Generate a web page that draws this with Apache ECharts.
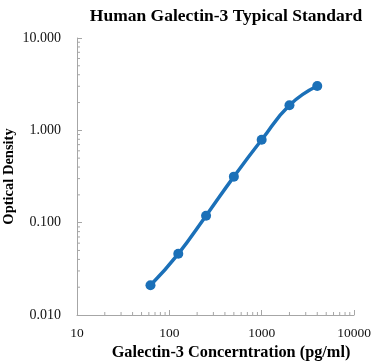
<!DOCTYPE html>
<html><head><meta charset="utf-8">
<script src="https://cdn.jsdelivr.net/npm/echarts@6/dist/echarts.min.js"></script>
<style>html,body{margin:0;padding:0;background:#fff}#c{width:371px;height:362px}</style>
</head><body><div id="c"></div>
<script>
var concentrations = [62.5, 125, 250, 500, 1000, 2000, 4000];
var opticalDensity = [0.021, 0.046, 0.119, 0.315, 0.79, 1.87, 3.02];
var xMinorTicks = [20,30,40,50,60,70,80,90,200,300,400,500,600,700,800,900,2000,3000,4000,5000,6000,7000,8000,9000];
var yMinorTicks = [0.02,0.03,0.04,0.05,0.06,0.07,0.08,0.09,0.2,0.3,0.4,0.5,0.6,0.7,0.8,0.9,2,3,4,5,6,7,8,9];
var titleText = 'Human Galectin-3 Typical Standard';
var xTitle = 'Galectin-3 Concerntration (pg/ml)';
var yTitle = 'Optical Density';

var font = '"Liberation Serif","Times New Roman",serif';
var axisCol = '#a6a6a6';
var chart = echarts.init(document.getElementById('c'));
chart.setOption({
  animation: false,
  title: {text: titleText, left: 221, textAlign: 'center', top: 2,
    textStyle: {fontFamily: font, fontWeight: 'bold', fontSize: 17.5, color: '#000'}},
  grid: {left: 77, right: 17, top: 38, bottom: 47, containLabel: false, outerBoundsMode: 'none'},
  xAxis: {type: 'log', min: 10, max: 10000, logBase: 10,
    name: '',
    axisLine: {lineStyle: {color: axisCol}},
    axisTick: {inside: true, length: 5, lineStyle: {color: axisCol}},
    axisLabel: {fontFamily: font, fontSize: 13.5, color: '#111', margin: 11,
      formatter: function (v) { return String(Math.round(v)); }},
    splitLine: {show: false}},
  yAxis: {type: 'log', min: 0.01, max: 10, logBase: 10,
    name: yTitle, nameLocation: 'middle', nameGap: 60, nameMoveOverlap: false,
    nameTextStyle: {fontFamily: font, fontWeight: 'bold', fontSize: 14.5, color: '#000'},
    axisLine: {show: true, lineStyle: {color: axisCol}},
    axisTick: {show: true, inside: true, length: 5, lineStyle: {color: axisCol}},
    axisLabel: {fontFamily: font, fontSize: 14, color: '#111', margin: 16,
      formatter: function (v) { return Number(v).toFixed(3); }},
    splitLine: {show: false}},
  series: [
    {type: 'custom', silent: true, data: [0], z: 1,
      renderItem: function (params, api) {
        var ch = [];
        xMinorTicks.forEach(function (v) {
          var p = api.coord([v, 0.01]);
          ch.push({type: 'line', shape: {x1: p[0], y1: p[1], x2: p[0], y2: p[1] - 3}, style: {stroke: axisCol, lineWidth: 1}});
        });
        yMinorTicks.forEach(function (v) {
          var p = api.coord([10, v]);
          ch.push({type: 'line', shape: {x1: p[0], y1: p[1], x2: p[0] + 3, y2: p[1]}, style: {stroke: axisCol, lineWidth: 1}});
        });
        var b = api.coord([10, 0.01]);
        ch.push({type: 'text', x: 231, y: b[1] + 38, style: {text: xTitle, fill: '#000',
          font: 'bold 16.3px ' + font, textAlign: 'center', textVerticalAlign: 'middle'}});
        return {type: 'group', children: ch};
      }},
    {type: 'line', smooth: true, z: 3,
      data: concentrations.map(function (c, i) { return [c, opticalDensity[i]]; }),
      symbol: 'circle', symbolSize: 10,
      lineStyle: {color: '#1b70b8', width: 3.5},
      itemStyle: {color: '#1b70b8'}}
  ]
});
</script></body></html>
